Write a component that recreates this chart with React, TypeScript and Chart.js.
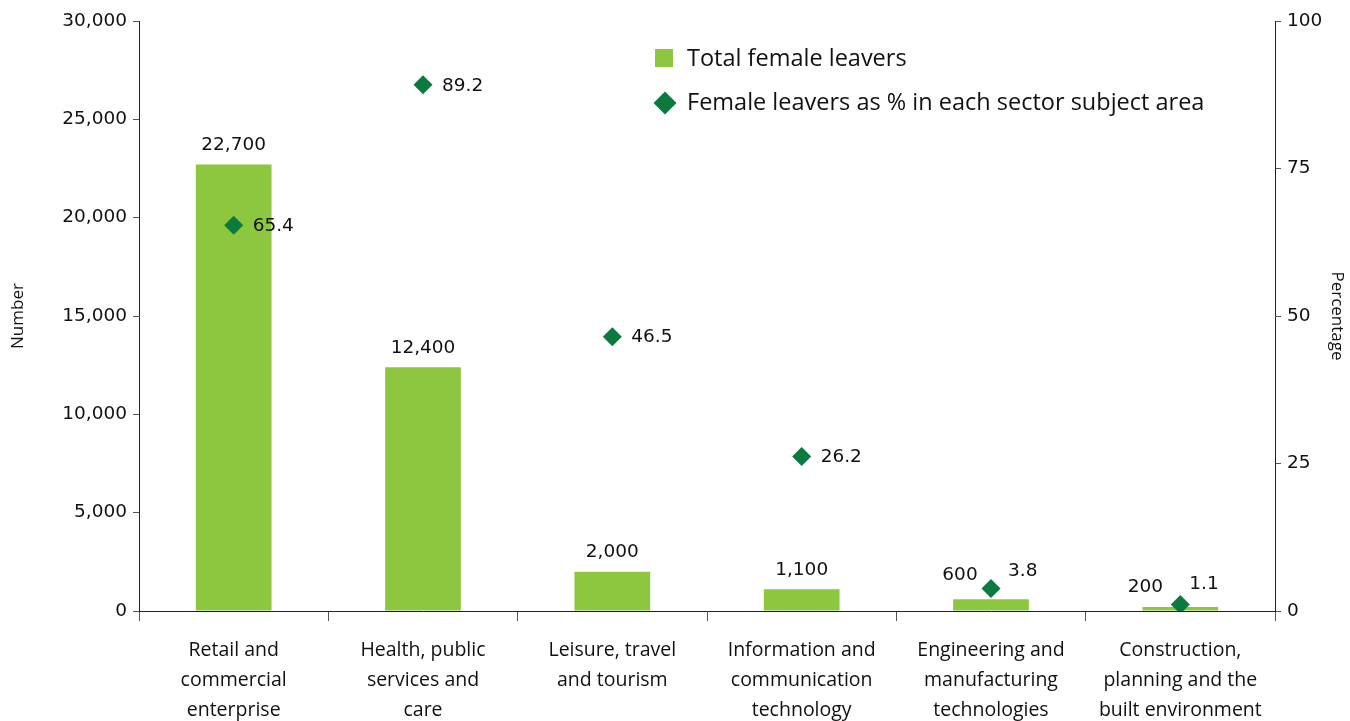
import React, { useEffect, useRef } from "react";
import { Chart, registerables } from "chart.js";

Chart.register(...registerables);

// ---- Data ----
const categories: string[][] = [
  ["Retail and", "commercial", "enterprise"],
  ["Health, public", "services and", "care"],
  ["Leisure, travel", "and tourism"],
  ["Information and", "communication", "technology"],
  ["Engineering and", "manufacturing", "technologies"],
  ["Construction,", "planning and the", "built environment"],
];
const totalFemaleLeavers = [22700, 12400, 2000, 1100, 600, 200];
const femalePercent = [65.4, 89.2, 46.5, 26.2, 3.8, 1.1];
const seriesNames = ["Total female leavers", "Female leavers as % in each sector subject area"];
const leftAxisTitle = "Number";
const rightAxisTitle = "Percentage";

// ---- Style ----
const BAR_COLOR = "#8DC63F";
const DIAMOND_COLOR = "#0B7A3E";
const TEXT_COLOR = "#111";
const FONT = "'Open Sans', 'Noto Sans', sans-serif";
const NUM_FONT = "'DejaVu Sans', 'Open Sans', sans-serif";
const NARROW = "'Liberation Sans Narrow', 'Open Sans', sans-serif";
// label offsets (dx, dy) in pixels, relative to default placement
const barLabelShift = [[0, 0], [0, 0], [0, 0], [0, 0], [-31, -5], [-35, -1]];
const pctLabelShift = [[0, 0], [0, 0], [0, 0], [0, 0], [-2, -18], [-10, -21]];

const fmt = (v: number) => v.toLocaleString("en-US");

const labelPlugin = {
  id: "valueLabels",
  afterDatasetsDraw(chart: any) {
    const ctx = chart.ctx;
    ctx.save();
    ctx.fillStyle = TEXT_COLOR;
    ctx.font = `18.5px ${NUM_FONT}`;
    const barMeta = chart.getDatasetMeta(0);
    barMeta.data.forEach((el: any, i: number) => {
      const [dx, dy] = barLabelShift[i];
      ctx.textAlign = "center";
      ctx.textBaseline = "middle";
      ctx.fillText(fmt(totalFemaleLeavers[i]), el.x + dx, el.y - 19 + dy);
    });
    const ptMeta = chart.getDatasetMeta(1);
    ptMeta.data.forEach((el: any, i: number) => {
      const [dx, dy] = pctLabelShift[i];
      ctx.textAlign = "left";
      ctx.textBaseline = "middle";
      ctx.fillText(femalePercent[i].toFixed(1), el.x + 19 + dx, el.y + 1 + dy);
    });
    ctx.restore();
  },
};

const legendPlugin = {
  id: "customLegend",
  afterDraw(chart: any) {
    const ctx = chart.ctx;
    const a = chart.chartArea;
    const x0 = a.left + 516;
    const y0 = a.top + 28;
    ctx.save();
    ctx.fillStyle = BAR_COLOR;
    ctx.fillRect(x0, y0, 18, 18);
    ctx.fillStyle = DIAMOND_COLOR;
    const cx = x0 + 10;
    const cy = y0 + 54;
    const r = 11.5;
    ctx.beginPath();
    ctx.moveTo(cx, cy - r);
    ctx.lineTo(cx + r, cy);
    ctx.lineTo(cx, cy + r);
    ctx.lineTo(cx - r, cy);
    ctx.closePath();
    ctx.fill();
    ctx.fillStyle = TEXT_COLOR;
    ctx.font = `500 23.5px ${FONT}`;
    ctx.textAlign = "left";
    ctx.textBaseline = "middle";
    ctx.fillText(seriesNames[0], x0 + 32, y0 + 10);
    ctx.fillText(seriesNames[1], x0 + 32, cy);
    ctx.restore();
  },
};

export default function App() {
  const ref = useRef<HTMLCanvasElement>(null);
  useEffect(() => {
    document.body.style.margin = "0";
    const chart = new Chart(ref.current as HTMLCanvasElement, {
      type: "bar",
      data: {
        labels: categories,
        datasets: [
          {
            type: "bar",
            label: seriesNames[0],
            data: totalFemaleLeavers,
            backgroundColor: BAR_COLOR,
            yAxisID: "y",
            barPercentage: 0.4,
            categoryPercentage: 1,
            order: 1,
          },
          {
            type: "line",
            label: seriesNames[1],
            data: femalePercent,
            yAxisID: "y1",
            showLine: false,
            pointStyle: "rectRot",
            pointRadius: 9.5,
            pointBackgroundColor: DIAMOND_COLOR,
            pointBorderColor: DIAMOND_COLOR,
            pointBorderWidth: 0,
            order: 0,
          } as any,
        ],
      },
      options: {
        animation: false,
        responsive: true,
        maintainAspectRatio: false,
        layout: { padding: { top: 21, left: 0, right: 0, bottom: 0 } },
        plugins: {
          legend: { display: false },
          tooltip: { enabled: false },
        },
        scales: {
          x: {
            offset: true,
            grid: {
              offset: true,
              drawOnChartArea: false,
              tickLength: 10,
              color: "#555",
            },
            border: { color: "#222", width: 1 },
            ticks: {
              color: TEXT_COLOR,
              font: { family: FONT, size: 19.5, lineHeight: 1.54 },
              padding: 14,
              maxRotation: 0,
              autoSkip: false,
            },
            afterFit: (s: any) => {
              s.height = 110;
            },
          },
          y: {
            position: "left",
            min: 0,
            max: 30000,
            grid: { drawOnChartArea: false, tickLength: 6, color: "#555" },
            border: { color: "#222", width: 1 },
            ticks: {
              stepSize: 5000,
              color: TEXT_COLOR,
              padding: 6,
              font: { family: NUM_FONT, size: 18.5 },
              callback: (v: any) => fmt(Number(v)),
            },
            title: {
              display: true,
              text: leftAxisTitle,
              color: TEXT_COLOR,
              font: { family: NARROW, size: 17 },
              padding: { top: 8, bottom: 0 },
            },
            afterFit: (s: any) => {
              s.width = 139;
            },
          },
          y1: {
            position: "right",
            min: 0,
            max: 100,
            grid: { drawOnChartArea: false, tickLength: 6, color: "#555" },
            border: { color: "#222", width: 1 },
            ticks: {
              stepSize: 25,
              color: TEXT_COLOR,
              padding: 6,
              font: { family: NUM_FONT, size: 18.5 },
            },
            title: {
              display: true,
              text: rightAxisTitle,
              color: TEXT_COLOR,
              font: { family: NARROW, size: 17 },
              padding: { top: 3, bottom: 0 },
            },
            afterFit: (s: any) => {
              s.width = 75;
            },
          },
        },
      },
      plugins: [labelPlugin, legendPlugin],
    });
    return () => chart.destroy();
  }, []);
  return (
    <div style={{ width: 1350, height: 721, position: "relative" }}>
      <canvas ref={ref} />
    </div>
  );
}
